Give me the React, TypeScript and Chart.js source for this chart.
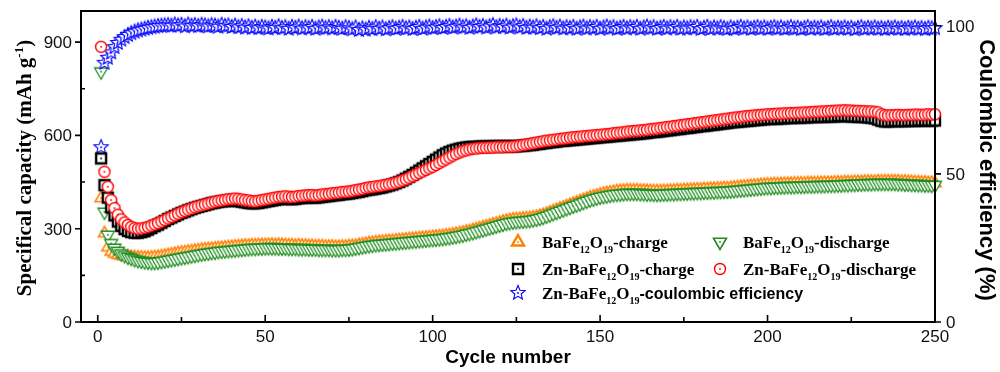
import React, { useEffect, useRef } from 'react';
import { Chart, registerables } from 'chart.js';

Chart.register(...registerables);

// ---------- data ----------
const cycles: number[] = Array.from({ length: 250 }, (_, i) => i + 1);

const baCharge: number[] = [
  398, 285, 240, 226, 220, 216, 213, 211, 210, 209,
  208, 207, 207, 206, 206, 207, 208, 209, 211, 213,
  215, 217, 219, 221, 223, 224, 226, 227, 229, 230,
  232, 233, 234, 235, 236, 237, 238, 239, 240, 241,
  242, 243, 244, 245, 245, 246, 246, 247, 247, 247,
  248, 248, 247, 248, 247, 247, 246, 246, 245, 246,
  245, 245, 244, 244, 243, 243, 243, 242, 242, 242,
  241, 241, 242, 242, 243, 244, 245, 247, 249, 251,
  253, 254, 256, 257, 258, 259, 260, 261, 262, 263,
  264, 265, 266, 267, 268, 269, 270, 271, 272, 273,
  274, 275, 276, 278, 279, 281, 283, 285, 287, 290,
  292, 295, 298, 301, 304, 307, 310, 313, 316, 319,
  322, 325, 327, 329, 330, 331, 332, 333, 334, 336,
  338, 341, 344, 348, 352, 356, 360, 364, 368, 372,
  376, 380, 384, 388, 392, 396, 400, 403, 406, 409,
  412, 414, 416, 418, 420, 421, 422, 423, 423, 423,
  423, 422, 422, 421, 421, 420, 420, 420, 421, 421,
  422, 422, 423, 423, 424, 424, 425, 425, 426, 426,
  427, 427, 428, 428, 429, 429, 430, 430, 431, 432,
  433, 434, 435, 436, 437, 438, 439, 440, 441, 442,
  442, 443, 443, 443, 444, 444, 444, 445, 445, 445,
  445, 446, 446, 446, 446, 447, 447, 447, 447, 448,
  448, 448, 449, 449, 449, 450, 450, 450, 451, 451,
  451, 451, 452, 452, 452, 452, 452, 452, 452, 451,
  451, 450, 450, 449, 449, 448, 448, 447, 447, 446,
];

const baDischarge: number[] = [
  805, 354, 280, 253, 238, 228, 220, 214, 209, 205,
  201, 198, 196, 194, 193, 192, 192, 193, 195, 197,
  199, 201, 203, 205, 207, 209, 211, 213, 215, 217,
  219, 221, 222, 224, 225, 227, 228, 229, 230, 231,
  232, 233, 234, 235, 236, 237, 237, 238, 238, 239,
  239, 239, 239, 238, 238, 238, 237, 237, 237, 236,
  236, 236, 235, 235, 235, 234, 234, 234, 234, 233,
  233, 233, 234, 234, 235, 236, 238, 240, 242, 244,
  246, 247, 249, 250, 251, 252, 253, 254, 255, 256,
  257, 258, 259, 260, 261, 262, 263, 264, 265, 266,
  267, 268, 269, 271, 272, 274, 276, 278, 280, 283,
  285, 288, 291, 294, 297, 300, 303, 306, 309, 312,
  315, 318, 320, 322, 323, 324, 325, 326, 327, 329,
  331, 334, 337, 341, 345, 349, 353, 357, 361, 365,
  369, 373, 377, 381, 385, 389, 393, 396, 399, 402,
  404, 406, 408, 410, 411, 412, 413, 414, 414, 414,
  414, 413, 413, 412, 412, 411, 411, 411, 412, 412,
  413, 413, 414, 414, 415, 415, 416, 416, 417, 417,
  418, 418, 419, 419, 420, 420, 421, 421, 422, 423,
  424, 425, 426, 427, 428, 429, 430, 431, 432, 433,
  433, 434, 434, 435, 435, 436, 436, 436, 437, 437,
  437, 438, 438, 438, 439, 439, 439, 440, 440, 440,
  441, 441, 442, 442, 443, 443, 444, 444, 445, 445,
  445, 446, 446, 446, 446, 446, 446, 446, 445, 445,
  444, 444, 443, 443, 442, 442, 441, 441, 440, 440,
];

const znCharge: number[] = [
  526, 440, 400, 368, 343, 323, 309, 299, 293, 289,
  287, 287, 289, 292, 297, 302, 308, 313, 319, 325,
  331, 336, 341, 346, 351, 355, 359, 363, 367, 370,
  373, 376, 379, 382, 384, 386, 388, 389, 390, 391,
  390, 389, 387, 385, 383, 382, 382, 383, 385, 387,
  389, 391, 393, 395, 396, 397, 396, 395, 396, 398,
  399, 400, 401, 401, 400, 401, 403, 404, 405, 407,
  408, 409, 411, 412, 413, 415, 417, 419, 421, 424,
  426, 427, 429, 431, 433, 436, 439, 442, 446, 450,
  455, 461, 467, 473, 480, 487, 494, 501, 508, 515,
  522, 529, 536, 542, 547, 551, 554, 557, 559, 561,
  562, 563, 563, 564, 564, 564, 564, 565, 565, 565,
  565, 565, 565, 565, 565, 566, 567, 568, 569, 570,
  572, 573, 575, 576, 578, 579, 580, 582, 583, 584,
  585, 586, 587, 588, 589, 590, 591, 592, 593, 594,
  595, 596, 597, 598, 599, 600, 601, 602, 603, 604,
  605, 606, 607, 608, 610, 611, 612, 613, 615, 616,
  617, 619, 620, 621, 623, 624, 625, 627, 628, 630,
  631, 632, 634, 635, 636, 638, 639, 640, 642, 643,
  644, 645, 646, 647, 648, 649, 650, 651, 652, 653,
  653, 654, 654, 655, 655, 656, 656, 657, 657, 658,
  658, 658, 659, 659, 660, 660, 660, 661, 661, 661,
  662, 662, 662, 662, 661, 661, 660, 660, 659, 658,
  657, 655, 651, 647, 645, 645, 646, 646, 646, 646,
  646, 647, 647, 647, 648, 648, 648, 648, 648, 648,
];

const znDischarge: number[] = [
  885, 483, 435, 392, 366, 345, 330, 320, 312, 306,
  302, 300, 301, 303, 306, 310, 314, 318, 323, 328,
  333, 338, 343, 348, 353, 357, 361, 365, 369, 372,
  375, 378, 381, 384, 387, 389, 391, 393, 395, 396,
  397, 396, 394, 392, 391, 389, 388, 390, 392, 394,
  396, 398, 400, 402, 403, 404, 403, 402, 403, 405,
  406, 407, 408, 408, 407, 408, 410, 411, 412, 414,
  415, 416, 418, 419, 420, 422, 424, 426, 428, 431,
  433, 434, 436, 437, 439, 441, 443, 445, 448, 451,
  455, 459, 464, 469, 474, 479, 484, 489, 494, 499,
  505, 511, 517, 523, 529, 535, 540, 545, 549, 552,
  555, 557, 558, 559, 560, 560, 561, 561, 562, 562,
  562, 563, 563, 564, 565, 567, 569, 571, 573, 575,
  577, 579, 581, 583, 584, 586, 587, 589, 590, 591,
  593, 594, 595, 596, 597, 598, 599, 600, 601, 602,
  603, 604, 605, 607, 608, 609, 610, 612, 613, 614,
  615, 616, 617, 618, 620, 621, 622, 624, 625, 627,
  628, 630, 631, 633, 634, 636, 637, 639, 640, 642,
  643, 645, 646, 648, 649, 651, 652, 654, 655, 657,
  658, 659, 661, 662, 663, 664, 665, 666, 667, 668,
  668, 669, 670, 670, 671, 671, 672, 672, 673, 673,
  674, 674, 675, 676, 676, 677, 677, 678, 679, 679,
  680, 680, 681, 680, 680, 679, 679, 678, 678, 677,
  677, 676, 674, 668, 665, 664, 665, 665, 666, 665,
  665, 666, 666, 667, 667, 666, 667, 668, 667, 668,
];

const znCE: number[] = [
  59, 87.5, 89.2, 91.0, 92.8, 94.2, 95.3, 96.2, 96.9, 97.5,
  98.0, 98.4, 98.7, 99.0, 99.3, 99.5, 99.7, 99.9, 100.0, 100.1,
  100.2, 100.0, 100.4, 100.1, 100.3, 99.8, 100.4, 100.0, 100.2, 99.9,
  100.3, 100.1, 99.8, 100.2, 100.0, 99.7, 100.3, 99.9, 100.1, 99.6,
  100.0, 99.5, 99.9, 99.4, 99.8, 99.3, 99.7, 99.2, 99.6, 99.4,
  99.1, 99.6, 99.3, 99.8, 99.2, 99.5, 99.0, 99.6, 99.3, 99.7,
  99.1, 99.5, 99.2, 99.6, 99.0, 99.4, 99.7, 99.2, 99.5, 99.1,
  99.6, 99.3, 99.0, 99.5, 99.2, 98.8, 99.4, 98.6, 99.1, 98.7,
  99.3, 98.9, 99.5, 99.0, 99.4, 98.8, 99.2, 99.5, 99.0, 99.3,
  99.6, 99.1, 99.4, 98.9, 99.3, 99.6, 99.0, 99.4, 99.7, 99.2,
  99.5, 99.8, 99.3, 99.6, 99.9, 99.4, 99.7, 100.0, 99.5, 99.8,
  99.3, 99.7, 100.1, 99.6, 99.9, 99.4, 99.8, 100.2, 99.5, 99.9,
  99.6, 100.0, 99.4, 99.8, 100.1, 99.5, 99.9, 99.3, 99.7, 99.4,
  99.8, 99.2, 99.6, 99.0, 99.5, 99.8, 99.3, 99.7, 99.1, 99.5,
  99.2, 99.6, 99.0, 99.4, 99.7, 99.1, 99.5, 99.2, 99.6, 99.0,
  99.4, 99.7, 99.2, 99.5, 99.0, 99.3, 99.6, 99.1, 99.5, 99.2,
  99.6, 99.0, 99.4, 99.7, 99.2, 99.5, 99.0, 99.3, 99.6, 99.1,
  99.5, 99.2, 99.6, 99.0, 99.4, 99.1, 99.5, 99.2, 99.6, 98.9,
  99.3, 99.6, 99.0, 99.4, 99.1, 99.5, 99.2, 98.9, 99.4, 99.0,
  99.3, 99.6, 99.1, 99.4, 99.0, 99.3, 99.5, 99.1, 99.4, 99.0,
  99.3, 99.5, 99.1, 99.4, 99.0, 99.2, 99.5, 99.1, 99.3, 98.9,
  99.2, 99.5, 99.0, 99.3, 99.1, 99.4, 98.9, 99.2, 99.5, 99.0,
  99.3, 99.1, 99.4, 99.0, 99.3, 98.8, 99.2, 99.5, 99.0, 99.3,
  99.1, 99.4, 99.0, 99.2, 98.9, 99.3, 99.1, 99.4, 99.0, 99.2,
  98.9, 99.3, 99.1, 99.4, 99.0, 99.2, 98.9, 99.3, 99.1, 99.2,
];

const legendLabels: string[] = [
  'BaFe12O19-charge',
  'BaFe12O19-discharge',
  'Zn-BaFe12O19-charge',
  'Zn-BaFe12O19-discharge',
  'Zn-BaFe12O19-coulombic efficiency',
];

const xMajorTicks: number[] = [0, 50, 100, 150, 200, 250];
const xMinorTicks: number[] = [25, 75, 125, 175, 225];
const yLeftMajorTicks: number[] = [0, 300, 600, 900];
const yLeftMinorTicks: number[] = [150, 450, 750];
const yRightMajorTicks: number[] = [0, 50, 100];

const xTitle = 'Cycle number';
const yLeftTitle = ['Specifical capacity (mAh g', '-1', ')'];
const yRightTitle = 'Coulombic efficiency (%)';

// ---------- styling ----------
const COLORS = {
  orange: '#ff8000',
  green: '#1e8c1e',
  black: '#000000',
  red: '#ff0000',
  blue: '#0000ff',
};

const SANS = '"Liberation Sans", Arial, sans-serif';
const SERIF = '"Liberation Serif", "Times New Roman", serif';

function makeMarker(shape: string, color: string, size: number, lw: number): HTMLCanvasElement {
  const c = document.createElement('canvas');
  const s = Math.ceil(size + lw + 4);
  const dim = s % 2 === 0 ? s : s + 1;
  c.width = dim;
  c.height = dim;
  const g = c.getContext('2d') as CanvasRenderingContext2D;
  const m = dim / 2;
  const r = size / 2;
  g.lineWidth = lw;
  g.strokeStyle = color;
  g.fillStyle = '#ffffff';
  g.lineJoin = 'miter';
  g.beginPath();
  if (shape === 'circle') {
    g.arc(m, m, r, 0, Math.PI * 2);
  } else if (shape === 'square') {
    g.rect(m - r, m - r, 2 * r, 2 * r);
  } else if (shape === 'up' || shape === 'down') {
    const R = size / Math.sqrt(3);
    const sgn = shape === 'up' ? 1 : -1;
    g.moveTo(m, m - sgn * R);
    g.lineTo(m - r, m + sgn * R / 2);
    g.lineTo(m + r, m + sgn * R / 2);
    g.closePath();
  } else if (shape === 'star') {
    const inner = r * 0.45;
    for (let i = 0; i < 10; i++) {
      const ang = -Math.PI / 2 + (i * Math.PI) / 5;
      const rr = i % 2 === 0 ? r : inner;
      const px = m + Math.cos(ang) * rr;
      const py = m + Math.sin(ang) * rr;
      if (i === 0) g.moveTo(px, py);
      else g.lineTo(px, py);
    }
    g.closePath();
  }
  g.fill();
  g.stroke();
  g.fillStyle = color;
  g.beginPath();
  g.arc(m, m, 0.9, 0, Math.PI * 2);
  g.fill();
  return c;
}

function splitFormula(label: string, mainFont: string, subFont: string, sansFont: string) {
  const segs: { t: string; f: string; dy: number }[] = [];
  const parts = label.split(/(\d+)/).filter((p) => p.length > 0);
  parts.forEach((p) => {
    if (/^\d+$/.test(p)) {
      segs.push({ t: p, f: subFont, dy: 5 });
    } else if (p.indexOf('coulombic') >= 0) {
      segs.push({ t: p, f: sansFont, dy: 0 });
    } else {
      segs.push({ t: p, f: mainFont, dy: 0 });
    }
  });
  return segs;
}

function drawSegs(ctx: CanvasRenderingContext2D, segs: { t: string; f: string; dy: number }[], x: number, y: number) {
  let cx = x;
  segs.forEach((s) => {
    ctx.font = s.f;
    ctx.fillText(s.t, cx, y + s.dy);
    cx += ctx.measureText(s.t).width;
  });
  return cx;
}

function segsWidth(ctx: CanvasRenderingContext2D, segs: { t: string; f: string; dy: number }[]) {
  let w = 0;
  segs.forEach((s) => {
    ctx.font = s.f;
    w += ctx.measureText(s.t).width;
  });
  return w;
}

export default function App() {
  const ref = useRef<HTMLCanvasElement>(null);

  useEffect(() => {
    const mOrange = makeMarker('up', COLORS.orange, 12, 1.6);
    const mGreen = makeMarker('down', COLORS.green, 13, 1.3);
    const mBlack = makeMarker('square', COLORS.black, 10, 2.4);
    const mRed = makeMarker('circle', COLORS.red, 11, 1.4);
    const mBlue = makeMarker('star', COLORS.blue, 15, 1.1);
    const lOrange = makeMarker('up', COLORS.orange, 12, 2.4);
    const lGreen = makeMarker('down', COLORS.green, 13, 1.6);

    const legendMarkers = [lOrange, lGreen, mBlack, mRed, mBlue];
    const legendPos = [
      [518, 242],
      [720, 242],
      [518, 269],
      [720, 269],
      [518, 293],
    ];
    const textX = [542, 743, 542, 743, 542];

    const toPts = (vals: number[]) => vals.map((v, i) => ({ x: cycles[i], y: v }));

    const decor = {
      id: 'decor',
      afterDraw(chart: any) {
        const ctx: CanvasRenderingContext2D = chart.ctx;
        const { left, right, top, bottom } = chart.chartArea;
        const sx = chart.scales.x;
        const sy = chart.scales.y;
        const sy1 = chart.scales.y1;
        ctx.save();
        // frame
        ctx.strokeStyle = '#000';
        ctx.lineWidth = 2;
        ctx.strokeRect(left, top, right - left, bottom - top);
        // ticks
        ctx.lineWidth = 1.6;
        ctx.beginPath();
        xMajorTicks.forEach((v) => {
          const px = sx.getPixelForValue(v);
          ctx.moveTo(px, bottom);
          ctx.lineTo(px, bottom - 7);
        });
        xMinorTicks.forEach((v) => {
          const px = sx.getPixelForValue(v);
          ctx.moveTo(px, bottom);
          ctx.lineTo(px, bottom - 5);
        });
        yLeftMajorTicks.forEach((v) => {
          const py = sy.getPixelForValue(v);
          ctx.moveTo(left, py);
          ctx.lineTo(left - 6, py);
        });
        yLeftMinorTicks.forEach((v) => {
          const py = sy.getPixelForValue(v);
          ctx.moveTo(left, py);
          ctx.lineTo(left + 4, py);
        });
        yRightMajorTicks.forEach((v) => {
          const py = sy1.getPixelForValue(v);
          ctx.moveTo(right, py);
          ctx.lineTo(right + 6, py);
        });
        ctx.stroke();

        // tick labels
        ctx.fillStyle = '#111';
        ctx.font = '17px ' + SANS;
        ctx.textBaseline = 'alphabetic';
        ctx.textAlign = 'center';
        xMajorTicks.forEach((v) => {
          ctx.fillText(String(v), sx.getPixelForValue(v), 342);
        });
        ctx.textAlign = 'right';
        yLeftMajorTicks.forEach((v) => {
          ctx.fillText(String(v), 72, sy.getPixelForValue(v) + 6);
        });
        ctx.textAlign = 'left';
        yRightMajorTicks.forEach((v) => {
          ctx.fillText(String(v), 946, sy1.getPixelForValue(v) + 6);
        });

        // axis titles
        ctx.fillStyle = '#000';
        ctx.textAlign = 'center';
        ctx.font = 'bold 19px ' + SANS;
        ctx.fillText(xTitle, (left + right) / 2, 363);

        // left title with superscript
        const lt = [
          { t: yLeftTitle[0], f: 'bold 21px ' + SERIF, dy: 0 },
          { t: yLeftTitle[1], f: 'bold 13px ' + SERIF, dy: -8 },
          { t: yLeftTitle[2], f: 'bold 21px ' + SERIF, dy: 0 },
        ];
        ctx.save();
        ctx.translate(31, 168);
        ctx.rotate(-Math.PI / 2);
        ctx.textAlign = 'left';
        const lw = segsWidth(ctx, lt);
        drawSegs(ctx, lt, -lw / 2, 0);
        ctx.restore();

        // right title
        ctx.save();
        ctx.translate(980, 170);
        ctx.rotate(Math.PI / 2);
        ctx.textAlign = 'center';
        ctx.font = 'bold 22px ' + SANS;
        ctx.fillText(yRightTitle, 0, 0);
        ctx.restore();

        // legend
        ctx.textAlign = 'left';
        legendLabels.forEach((lab, i) => {
          const mk = legendMarkers[i];
          const [mx, my] = legendPos[i];
          ctx.drawImage(mk, mx - mk.width / 2, my - mk.height / 2);
          const segs = splitFormula(
            lab,
            'bold 17px ' + SERIF,
            'bold 10px ' + SERIF,
            'bold 16px ' + SANS
          );
          ctx.fillStyle = '#000';
          drawSegs(ctx, segs, textX[i], my + 6);
        });
        ctx.restore();
      },
    };

    const common = {
      showLine: false,
      pointRadius: 5,
      pointHoverRadius: 5,
      clip: false,
    };

    const chart = new Chart(ref.current as HTMLCanvasElement, {
      type: 'scatter',
      data: {
        datasets: [
          { ...common, label: legendLabels[3], data: toPts(znDischarge), yAxisID: 'y', pointStyle: mRed, order: 0 },
          { ...common, label: legendLabels[2], data: toPts(znCharge), yAxisID: 'y', pointStyle: mBlack, order: 1 },
          { ...common, label: legendLabels[4], data: toPts(znCE), yAxisID: 'y1', pointStyle: mBlue, order: 2 },
          { ...common, label: legendLabels[1], data: toPts(baDischarge), yAxisID: 'y', pointStyle: mGreen, order: 3 },
          { ...common, label: legendLabels[0], data: toPts(baCharge), yAxisID: 'y', pointStyle: mOrange, order: 4 },
        ] as any,
      },
      options: {
        animation: false,
        responsive: true,
        maintainAspectRatio: false,
        layout: { padding: { top: 11, left: 0, right: 0, bottom: 0 } },
        plugins: {
          legend: { display: false },
          tooltip: { enabled: false },
        },
        events: [],
        scales: {
          x: {
            type: 'linear',
            position: 'bottom',
            min: -5,
            max: 250,
            grid: { display: false, drawTicks: false },
            border: { display: false },
            ticks: { display: false },
            afterFit: (s: any) => {
              s.height = 50;
            },
          },
          y: {
            type: 'linear',
            position: 'left',
            min: 0,
            max: 1000,
            grid: { display: false, drawTicks: false },
            border: { display: false },
            ticks: { display: false },
            afterFit: (s: any) => {
              s.width = 81;
            },
          },
          y1: {
            type: 'linear',
            position: 'right',
            min: 0,
            max: 105,
            grid: { display: false, drawTicks: false },
            border: { display: false },
            ticks: { display: false },
            afterFit: (s: any) => {
              s.width = 65;
            },
          },
        },
      } as any,
      plugins: [decor],
    });
    return () => chart.destroy();
  }, []);

  return (
    <div style={{ position: 'absolute', left: 0, top: 0, width: 1000, height: 372, background: '#fff' }}>
      <canvas ref={ref} />
    </div>
  );
}
